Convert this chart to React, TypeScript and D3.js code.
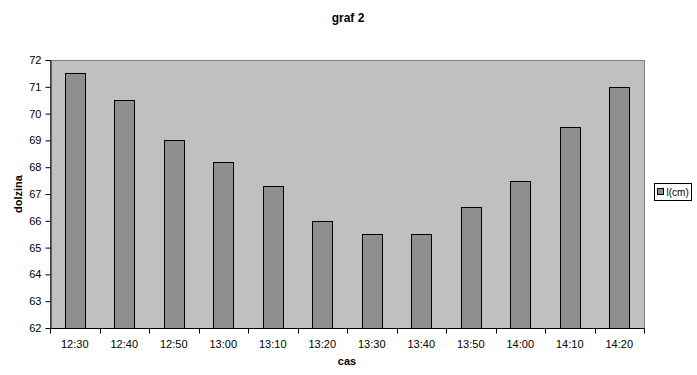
import { useEffect, useRef } from "react";
import * as d3 from "d3";

const times = ["12:30", "12:40", "12:50", "13:00", "13:10", "13:20", "13:30", "13:40", "13:50", "14:00", "14:10", "14:20"];
const lengths = [71.5, 70.5, 69, 68.2, 67.3, 66, 65.5, 65.5, 66.5, 67.5, 69.5, 71];
const yTicks = [62, 63, 64, 65, 66, 67, 68, 69, 70, 71, 72];

export default function App() {
  const svgRef = useRef<SVGSVGElement>(null);

  useEffect(() => {
    if (!svgRef.current) return;
    const svg = d3.select(svgRef.current);
    svg.selectAll("*").remove();

    const left = 50;
    const right = 644;
    const top = 60;
    const bottom = 328;
    const font = "Liberation Sans, Arial, sans-serif";

    const x = d3.scaleBand<string>().domain(times).range([left, right]).paddingInner(0.6).paddingOuter(0.3);
    const band = d3.scaleBand<string>().domain(times).range([left, right]);
    const y = d3.scaleLinear().domain([62, 72]).range([bottom, top]);

    // plot area
    svg.append("rect")
      .attr("x", left).attr("y", top)
      .attr("width", right - left).attr("height", bottom - top)
      .attr("fill", "#c0c0c0")
      .attr("stroke", "#808080")
      .attr("stroke-width", 1)
      .attr("shape-rendering", "crispEdges");

    // bars
    svg.append("g")
      .selectAll("rect")
      .data(lengths)
      .join("rect")
      .attr("x", (_, i) => Math.round(x(times[i])!) + 0.5)
      .attr("y", (d) => Math.round(y(d)) + 0.5)
      .attr("width", Math.round(x.bandwidth()))
      .attr("height", (d) => Math.round(y(62) - y(d)))
      .attr("fill", "#8f8f8f")
      .attr("stroke", "#000")
      .attr("stroke-width", 1);

    // y axis
    const yAxis = svg.append("g")
      .attr("transform", `translate(${left + 0.5},0)`)
      .call(d3.axisLeft(y).tickValues(yTicks).tickSize(5).tickSizeOuter(0).tickPadding(4).tickFormat(d3.format("d")));
    yAxis.select(".domain").attr("stroke", "#000");
    yAxis.selectAll("line").attr("stroke", "#000");
    yAxis.selectAll("text").attr("font-family", font).attr("font-size", 11).attr("fill", "#000");

    // x axis
    const xAxis = svg.append("g")
      .attr("transform", `translate(0,${bottom + 0.5})`);
    xAxis.append("line")
      .attr("x1", left).attr("x2", right)
      .attr("stroke", "#000");
    const bounds = times.map((t) => band(t)!).concat([right]);
    xAxis.selectAll("line.tick")
      .data(bounds)
      .join("line")
      .attr("class", "tick")
      .attr("x1", (d) => Math.round(d) + 0.5).attr("x2", (d) => Math.round(d) + 0.5)
      .attr("y1", 0).attr("y2", 5)
      .attr("stroke", "#000");
    xAxis.selectAll("text")
      .data(times)
      .join("text")
      .attr("x", (d) => band(d)! + band.bandwidth() / 2)
      .attr("y", 19)
      .attr("text-anchor", "middle")
      .attr("font-family", font)
      .attr("font-size", 11)
      .attr("fill", "#000")
      .text((d) => d);

    // titles
    svg.append("text")
      .attr("x", 348).attr("y", 22)
      .attr("text-anchor", "middle")
      .attr("font-family", font).attr("font-size", 12).attr("font-weight", "bold")
      .text("graf 2");
    svg.append("text")
      .attr("x", 347).attr("y", 365)
      .attr("text-anchor", "middle")
      .attr("font-family", font).attr("font-size", 11).attr("font-weight", "bold")
      .text("cas");
    svg.append("text")
      .attr("transform", `translate(22,${(top + bottom) / 2}) rotate(-90)`)
      .attr("text-anchor", "middle")
      .attr("font-family", font).attr("font-size", 11).attr("font-weight", "bold")
      .text("dolzina");

    // legend
    const lg = svg.append("g").attr("transform", "translate(654.5,183.5)");
    lg.append("rect").attr("width", 37).attr("height", 17).attr("fill", "#fff").attr("stroke", "#000");
    lg.append("rect").attr("x", 3).attr("y", 5).attr("width", 6).attr("height", 6).attr("fill", "#8f8f8f").attr("stroke", "#000");
    lg.append("text")
      .attr("x", 12).attr("y", 12.5)
      .attr("font-family", font).attr("font-size", 10)
      .text("l(cm)");
  }, []);

  return (
    <svg ref={svgRef} width={697} height={375} style={{ position: "absolute", left: 0, top: 0, background: "#fff" }} />
  );
}
